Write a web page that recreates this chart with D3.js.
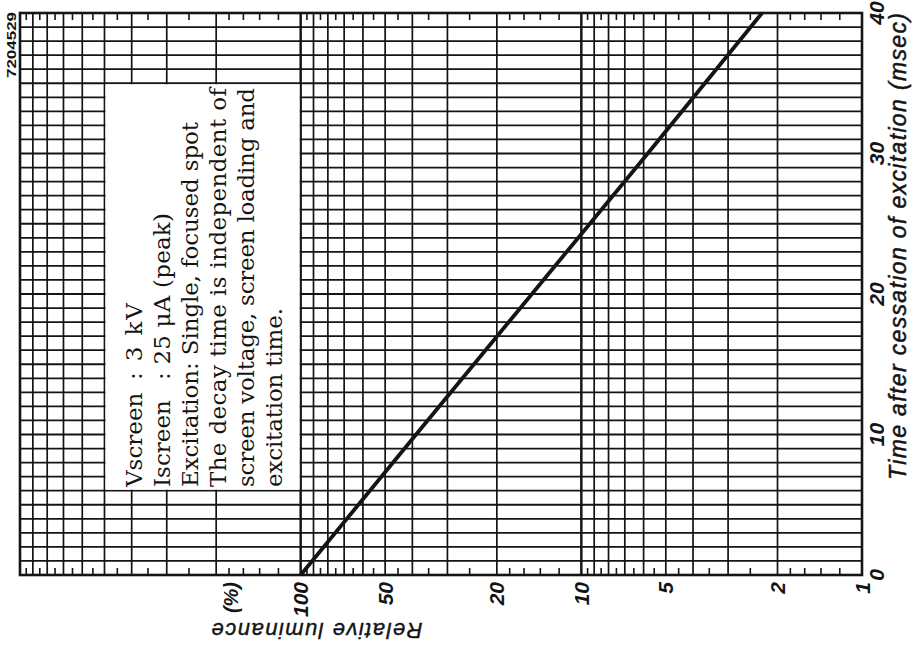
<!DOCTYPE html>
<html>
<head>
<meta charset="utf-8">
<script src="https://cdn.jsdelivr.net/npm/d3@7"></script>
<style>
  html, body { margin: 0; padding: 0; background: #fff; }
  svg { display: block; }
</style>
</head>
<body>
<div id="chart"></div>
<script>
// time after cessation of excitation (ms) vs relative luminance (%)
const timeMs = [0, 10, 20, 30, 40];
const luminance = [100, 38.8, 15.0, 5.8, 2.27];

const lumTicks = [100, 50, 20, 10, 5, 2, 1];
const timeTicks = [0, 10, 20, 30, 40];

const noteLines = [
  ["Vscreen", ": 3 kV"],
  ["Iscreen", ": 25 \u03bcA (peak)"],
  ["Excitation: Single, focused spot"],
  ["The decay time is independent of"],
  ["screen voltage, screen loading and"],
  ["excitation time."]
];

const width = 923, height = 649;
const ink = "#141414";

const svg = d3.select("#chart").append("svg")
  .attr("width", width)
  .attr("height", height);

// the chart is printed turned a quarter: luminance runs right-to-left, time upward
const x = d3.scaleLog().domain([1000, 1]).range([20, 862]);
const y = d3.scaleLinear().domain([0, 40]).range([575, 13]);

const [x0, x1] = [x(1000), x(1)];
const [yTop, yBot] = [y(40), y(0)];

// grid lines for every integer step of each decade
const majors = [];
const halfTicks = [];
[1, 10, 100].forEach(dec => {
  for (let k = 1; k <= 10; k++) majors.push(k * dec);
  [1.2, 1.4, 1.6, 1.8].forEach(f => halfTicks.push(f * dec));
  for (let k = 2; k < 10; k++) halfTicks.push((k + 0.5) * dec);
});

const grid = svg.append("g");

grid.selectAll("line.h")
  .data(d3.range(1, 40))
  .join("line")
  .attr("x1", x0).attr("x2", x1)
  .attr("y1", d => y(d)).attr("y2", d => y(d))
  .attr("stroke", ink)
  .attr("stroke-width", d => d % 5 === 0 ? 2 : 1.7);

grid.selectAll("line.v")
  .data(majors.filter(d => d > 1 && d < 1000))
  .join("line")
  .attr("x1", d => x(d)).attr("x2", d => x(d))
  .attr("y1", yTop).attr("y2", yBot)
  .attr("stroke", ink)
  .attr("stroke-width", d => (d === 10 || d === 100) ? 2 : 1.7);

// short ticks hanging from top and standing on bottom edge
[[yBot, -7], [yTop, 7]].forEach(([base, len]) => {
  grid.append("g").selectAll("line")
    .data(halfTicks)
    .join("line")
    .attr("x1", d => x(d)).attr("x2", d => x(d))
    .attr("y1", base).attr("y2", base + len)
    .attr("stroke", ink)
    .attr("stroke-width", 1.6);
});

// blank panel for the notes
const bx0 = x(500), bx1 = x(100), by0 = y(35), by1 = y(6);
svg.append("rect")
  .attr("x", bx0 + 1).attr("y", by0 + 1)
  .attr("width", bx1 - bx0 - 2).attr("height", by1 - by0 - 2)
  .attr("fill", "#fff");

// frame
svg.append("rect")
  .attr("x", x0).attr("y", yTop)
  .attr("width", x1 - x0).attr("height", yBot - yTop)
  .attr("fill", "none")
  .attr("stroke", ink)
  .attr("stroke-width", 2.6);

// decay curve
const pts = timeMs.map((t, i) => ({ t, l: luminance[i] }));
svg.append("path")
  .datum(pts)
  .attr("fill", "none")
  .attr("stroke", ink)
  .attr("stroke-width", 3.8)
  .attr("d", d3.line().x(d => x(d.l)).y(d => y(d.t)));

// notes text (lengths measured off the print)
const noteBase = [142, 170, 198, 226, 254, 282];
const noteLen = [null, null, 365, 399, 399, 179];
const valueLen = [77, 167];
const notes = svg.append("g")
  .attr("font-family", "DejaVu Serif, serif")
  .attr("font-size", 23)
  .attr("fill", ink);
noteLines.forEach((parts, i) => {
  const t1 = notes.append("text")
    .attr("transform", `translate(${noteBase[i]},487) rotate(-90)`)
    .text(parts[0]);
  if (noteLen[i]) t1.attr("textLength", noteLen[i]).attr("lengthAdjust", "spacing");
  if (parts[1]) {
    notes.append("text")
      .attr("transform", `translate(${noteBase[i]},380) rotate(-90)`)
      .attr("textLength", valueLen[i])
      .attr("lengthAdjust", "spacing")
      .text(parts[1]);
  }
});

// luminance tick labels
const labFont = "Liberation Sans, Arial, sans-serif";
svg.append("g").selectAll("text")
  .data(lumTicks)
  .join("text")
  .attr("transform", d => `translate(${x(d)},582) rotate(-90)`)
  .attr("dy", "0.36em")
  .attr("text-anchor", "end")
  .attr("font-family", labFont)
  .attr("font-style", "italic")
  .attr("font-weight", "bold")
  .attr("font-size", 21)
  .attr("fill", ink)
  .text(d => d);

svg.append("text")
  .attr("transform", "translate(231,582) rotate(-90)")
  .attr("dy", "0.36em")
  .attr("text-anchor", "end")
  .attr("font-family", labFont)
  .attr("font-style", "italic")
  .attr("font-weight", "bold")
  .attr("font-size", 20)
  .attr("fill", ink)
  .text("(%)");

svg.append("text")
  .attr("transform", "translate(317,623) rotate(180)")
  .attr("text-anchor", "middle")
  .attr("font-family", labFont)
  .attr("font-style", "italic")
  .attr("font-size", 22)
  .attr("stroke", ink)
  .attr("stroke-width", 0.4)
  .attr("textLength", 211)
  .attr("lengthAdjust", "spacing")
  .attr("fill", ink)
  .text("Relative luminance");

// time tick labels
svg.append("g").selectAll("text")
  .data(timeTicks)
  .join("text")
  .attr("transform", d => `translate(876,${y(d)}) rotate(-90)`)
  .attr("dy", "0.36em")
  .attr("text-anchor", "middle")
  .attr("font-family", labFont)
  .attr("font-style", "italic")
  .attr("font-weight", "bold")
  .attr("font-size", 21)
  .attr("fill", ink)
  .text(d => d);

svg.append("text")
  .attr("transform", "translate(906,480) rotate(-90)")
  .attr("font-family", labFont)
  .attr("font-style", "italic")
  .attr("font-size", 23)
  .attr("stroke", ink)
  .attr("stroke-width", 0.5)
  .attr("textLength", 467)
  .attr("lengthAdjust", "spacing")
  .attr("fill", ink)
  .text("Time after cessation of excitation (msec)");

// drawing number
svg.append("text")
  .attr("transform", "translate(16,78) rotate(-90)")
  .attr("font-family", labFont)
  .attr("font-weight", "bold")
  .attr("font-size", 12)
  .attr("textLength", 66)
  .attr("lengthAdjust", "spacingAndGlyphs")
  .attr("fill", ink)
  .text("7204529");
</script>
</body>
</html>
